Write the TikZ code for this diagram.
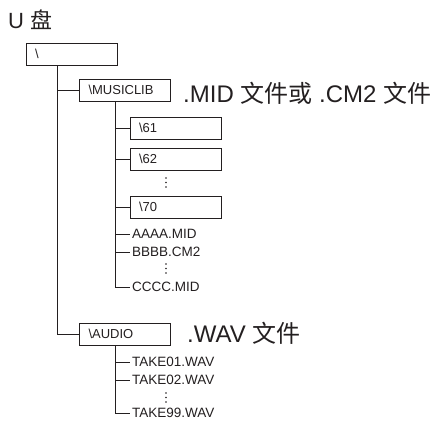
\documentclass[tikz,border=0pt]{standalone}
\usepackage{fontspec}
\setmainfont{Liberation Sans}
\newfontfamily\cjk{Noto Sans CJK SC}
\definecolor{ink}{HTML}{231F20}
\begin{document}
\begin{tikzpicture}[x=1pt,y=-1pt,
  conn/.style={draw=ink, line width=0.9pt},
  fbox/.style={draw=ink, line width=0.9pt, minimum height=22pt, text width=73pt,
    inner xsep=9pt, inner ysep=0pt, align=left, text=ink, font=\fontsize{13}{14}\selectfont},
  leaf/.style={anchor=west, inner xsep=2pt, inner ysep=0pt, text=ink, font=\fontsize{13.5}{14}\selectfont},
  big/.style={anchor=base west, inner sep=0pt, text=ink, font=\fontsize{24}{26}\selectfont},
  vdot/.style={fill=ink, draw=none}
]
\useasboundingbox (0,0) rectangle (446,420);
\node[big, font=\fontsize{22}{24}\selectfont] (title) at (8,29) {U {\cjk 盘}};

\node[fbox] (root) at (71.5,54) {\textbackslash};
\node[fbox] (music) at (125,90) {\textbackslash MUSICLIB};
\node[big] (midnote) at (183,102) {.MID {\cjk 文件或} .CM2 {\cjk 文件}};
\node[fbox] (d61) at (175.5,128) {\textbackslash 61};
\node[fbox] (d62) at (175.5,159) {\textbackslash 62};
\node[fbox] (d70) at (175.5,207) {\textbackslash 70};
\node[leaf] (aaaa) at (130,234) {AAAA.MID};
\node[leaf] (bbbb) at (130,252) {BBBB.CM2};
\node[leaf] (cccc) at (130,287) {CCCC.MID};
\node[fbox] (audio) at (125,334) {\textbackslash AUDIO};
\node[big] (wavnote) at (187,342) {.WAV {\cjk 文件}};
\node[leaf] (t01) at (130,362) {TAKE01.WAV};
\node[leaf] (t02) at (130,380) {TAKE02.WAV};
\node[leaf] (t99) at (130,413) {TAKE99.WAV};

\coordinate (rootfoot) at (57.5,65);
\coordinate (musicfoot) at (115.5,101);
\coordinate (audiofoot) at (115.5,345);

\draw[conn] (rootfoot) |- (audio.west);
\draw[conn] (rootfoot |- music.west) -- (music.west);
\draw[conn] (musicfoot) |- (cccc.west);
\foreach \n in {d61,d62,d70,aaaa,bbbb}{\draw[conn] (musicfoot |- \n.west) -- (\n.west);}
\draw[conn] (audiofoot) |- (t99.west);
\foreach \n in {t01,t02}{\draw[conn] (audiofoot |- \n.west) -- (\n.west);}

\foreach \y in {178,182.5,187, 264,268.5,273, 393,397.5,402}{\fill[vdot] (166,\y) circle (0.8);}
\end{tikzpicture}
\end{document}
